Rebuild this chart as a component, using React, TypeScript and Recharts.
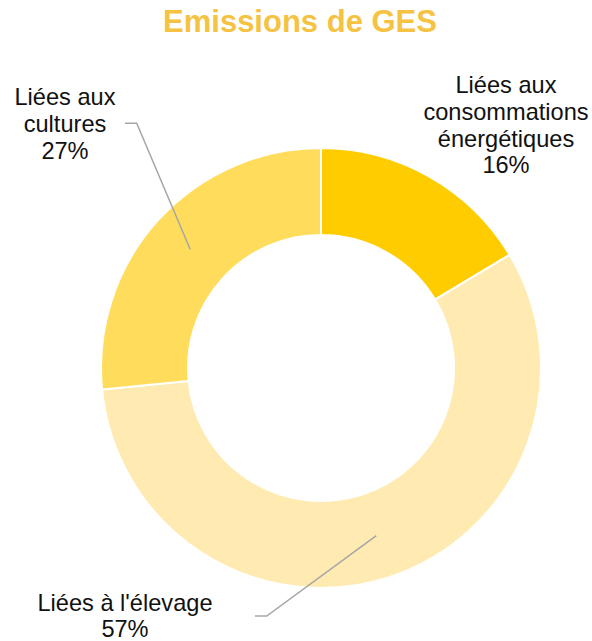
import React from 'react';
import { PieChart, Pie, Cell } from 'recharts';

const categories = [
  ['Liées aux', 'consommations', 'énergétiques'],
  ['Liées à l\'élevage'],
  ['Liées aux', 'cultures'],
];
const values = [16.4, 57.05, 26.55];
const colors = ['#FFCC00', '#FFEBB1', '#FFDC5C'];

const chartData = values.map((v, i) => ({ name: categories[i].join(' '), value: v }));

// label placement relative to the pie center (text anchor, leader elbow, leader end)
const labelLayout = [
  { tx: 185, ty: -275, leader: null },
  { tx: -196, ty: 242.5, leader: { ex: -54.3, ey: 248, fx: -66, fy: 248 } },
  { tx: -256, ty: -263, leader: { ex: -184.3, ey: -244.7, fx: -196, fy: -244.7 } },
];

const RADIAN = Math.PI / 180;
const LINE_H = 26.8;

const renderLabel = (props: any) => {
  const { cx, cy, midAngle, innerRadius, outerRadius, index, value } = props;
  const layout = labelLayout[index];
  const r = (innerRadius + outerRadius) / 2;
  const ax = cx + r * Math.cos(-midAngle * RADIAN);
  const ay = cy + r * Math.sin(-midAngle * RADIAN);
  const total = values.reduce((a, b) => a + b, 0);
  const lines = [...categories[index], `${Math.round((value / total) * 100)}%`];
  return (
    <g key={`lbl-${index}`}>
      {layout.leader && (
        <polyline
          points={`${ax},${ay} ${cx + layout.leader.ex},${cy + layout.leader.ey} ${cx + layout.leader.fx},${cy + layout.leader.fy}`}
          fill="none"
          stroke="#A6A6A6"
          strokeWidth={1.5}
        />
      )}
      <text
        x={cx + layout.tx}
        y={cy + layout.ty}
        textAnchor="middle"
        fontFamily="'Liberation Sans', Arial, sans-serif"
        fontSize={23.6}
        fill="#111"
      >
        {lines.map((l, i) => (
          <tspan key={i} x={cx + layout.tx} dy={i === 0 ? 0 : LINE_H}>
            {l}
          </tspan>
        ))}
      </text>
    </g>
  );
};

const App = () => {
  return (
    <div style={{ position: 'absolute', left: 0, top: 0, width: 592, height: 641, background: '#fff' }}>
      <div
        style={{
          position: 'absolute',
          left: 0,
          top: 4,
          width: 600,
          textAlign: 'center',
          fontFamily: "'Liberation Sans', Arial, sans-serif",
          fontWeight: 'bold',
          fontSize: 31,
          color: '#F5C242',
        }}
      >
        Emissions de GES
      </div>
      <PieChart width={592} height={641} margin={{ top: 0, right: 0, bottom: 0, left: 0 }}>
        <Pie
          data={chartData}
          dataKey="value"
          nameKey="name"
          cx={321}
          cy={368}
          innerRadius={133}
          outerRadius={220}
          startAngle={90}
          endAngle={-270}
          stroke="#fff"
          strokeWidth={2}
          label={renderLabel}
          labelLine={false}
          isAnimationActive={false}
        >
          {chartData.map((d, i) => (
            <Cell key={d.name} fill={colors[i]} />
          ))}
        </Pie>
      </PieChart>
    </div>
  );
};

export default App;
